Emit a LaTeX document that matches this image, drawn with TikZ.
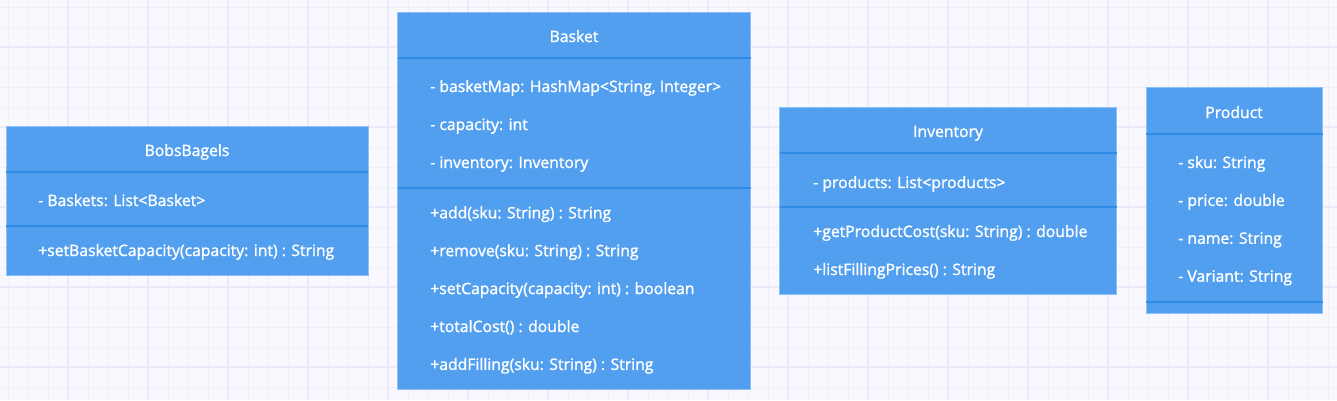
\documentclass[tikz,border=0pt]{standalone}
\usepackage{fontspec}
\setmainfont{Open Sans}
\newfontfamily\umlfont{Open Sans}[FakeBold=1.4]
\usetikzlibrary{positioning}

\definecolor{BoxBlue}{HTML}{529FF0}
\definecolor{BoxSep}{HTML}{2F8CE6}
\definecolor{BoxEdge}{HTML}{8DC0F6}
\definecolor{PaperBg}{HTML}{F8F8FE}
\definecolor{GridMinor}{HTML}{EFEFFA}
\definecolor{GridMajor}{HTML}{EAEAF9}

\begin{document}
\begin{tikzpicture}[x=0.75pt,y=-0.75pt,
  classbox/.style={fill=BoxBlue,draw=BoxEdge,line width=0.75pt},
  sepline/.style={draw=BoxSep,line width=1.5pt},
  member/.style={anchor=base west,inner sep=0pt,text=white,font=\umlfont\fontsize{11.8}{13}\selectfont},
  classname/.style={member,anchor=base}]
\useasboundingbox (0,0) rectangle (1337,400);
% Background paper and grid
\fill[PaperBg] (0,0) rectangle (1337,400);
\foreach \gx in {8,28,...,1328} \draw[GridMinor,line width=0.75pt] (\gx,0) -- (\gx,400);
\foreach \gy in {7,27,...,387} \draw[GridMinor,line width=0.75pt] (0,\gy) -- (1337,\gy);
\foreach \gx in {68,148,...,1328} \draw[GridMajor,line width=1.5pt] (\gx,0) -- (\gx,400);
\foreach \gy in {47,127,...,367} \draw[GridMajor,line width=1.5pt] (0,\gy) -- (1337,\gy);

% BobsBagels
\filldraw[classbox] (6,126) rectangle (368,275);
\draw[sepline] (6,172) -- (368,172);
\draw[sepline] (6,226) -- (368,226);
\node[classname] (bobs) at (187,156) {BobsBagels};
\node[member] (bobs-attr) at (38,206) {- Baskets: List<Basket>};
\node[member] (bobs-op) at (38,256) {+setBasketCapacity(capacity: int) : String};

% Basket
\filldraw[classbox] (397.5,12) rectangle (750.5,389);
\draw[sepline] (397.5,58) -- (750.5,58);
\draw[sepline] (397.5,188) -- (750.5,188);
\node[classname] (basket) at (574,42) {Basket};
\foreach \txt [count=\i] in {{- basketMap: HashMap<String, Integer>},{- capacity: int},{- inventory: Inventory}}
  \node[member] (basket-attr-\i) at (430,{92+(\i-1)*38}) {\txt};
\foreach \txt [count=\i] in {{+add(sku: String) : String},{+remove(sku: String) : String},
    {+setCapacity(capacity: int) : boolean},{+totalCost() : double},{+addFilling(sku: String) : String}}
  \node[member] (basket-op-\i) at (430,{218.3+(\i-1)*37.9}) {\txt};

% Inventory
\filldraw[classbox] (779.5,107) rectangle (1116.5,294);
\draw[sepline] (779.5,153) -- (1116.5,153);
\draw[sepline] (779.5,207) -- (1116.5,207);
\node[classname] (inventory) at (948,137) {Inventory};
\node[member] (inventory-attr) at (813,188) {- products: List<products>};
\node[member] (inventory-op-1) at (813,237) {+getProductCost(sku: String) : double};
\node[member] (inventory-op-2) at (813,275) {+listFillingPrices() : String};

% Product
\filldraw[classbox] (1146,87.5) rectangle (1322.5,313);
\draw[sepline] (1146,133.5) -- (1322.5,133.5);
\draw[sepline] (1146,302) -- (1322.5,302);
\node[classname] (product) at (1234,118) {Product};
\foreach \txt [count=\i] in {{- sku: String},{- price: double},{- name: String},{- Variant: String}}
  \node[member] (product-attr-\i) at (1178,{168+(\i-1)*37.9}) {\txt};
\end{tikzpicture}
\end{document}
